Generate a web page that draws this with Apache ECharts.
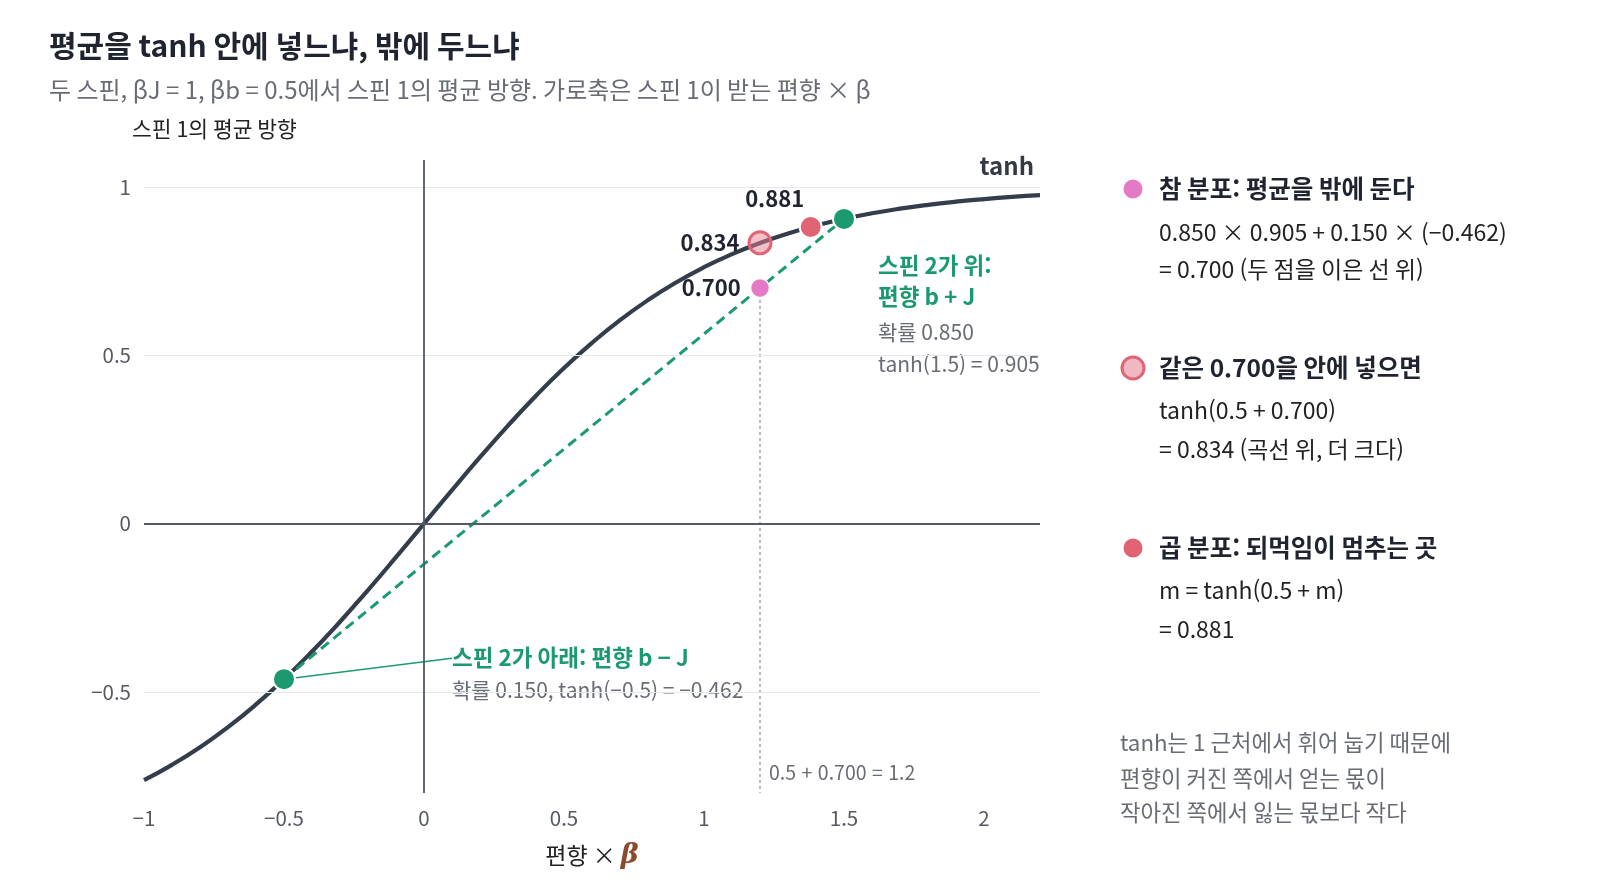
<!DOCTYPE html>
<html lang="ko">
<head>
<meta charset="UTF-8">
<title>평균을 tanh 안에 넣느냐, 밖에 두느냐</title>
<script src="https://cdn.jsdelivr.net/npm/echarts@6/dist/echarts.min.js"></script>
<style>
    html, body { margin: 0; padding: 0; background: #fff; }
    #chart { width: 1600px; height: 896px; }
</style>
</head>
<body>
<div id="chart"></div>
<script>
// tanh 곡선 표본 (가로: 편향 × β, 세로: 평균 방향)
var curveX = [-1.0, -0.9, -0.8, -0.7, -0.6, -0.5, -0.4, -0.3, -0.2, -0.1, 0.0,
              0.1, 0.2, 0.3, 0.4, 0.5, 0.6, 0.7, 0.8, 0.9, 1.0,
              1.1, 1.2, 1.3, 1.4, 1.5, 1.6, 1.7, 1.8, 1.9, 2.0, 2.1, 2.2];
var curveY = [-0.7616, -0.7163, -0.6640, -0.6044, -0.5370, -0.4621, -0.3799, -0.2913, -0.1974, -0.0997, 0.0,
              0.0997, 0.1974, 0.2913, 0.3799, 0.4621, 0.5370, 0.6044, 0.6640, 0.7163, 0.7616,
              0.8005, 0.8337, 0.8617, 0.8854, 0.9051, 0.9217, 0.9354, 0.9468, 0.9562, 0.9640, 0.9705, 0.9757];

var xTicks = [-1, -0.5, 0, 0.5, 1, 1.5, 2];
var yTicks = [-0.5, 0, 0.5, 1];
var xRange = [-1, 2.2];
var yRange = [-0.8, 1.08];

var lowerPoint = [-0.5, -0.462];   // 스핀 2가 아래
var upperPoint = [1.5, 0.905];     // 스핀 2가 위
var truePoint = [1.2, 0.700];      // 참 분포
var insidePoint = [1.2, 0.834];    // 평균을 안에 넣은 값
var productPoint = [1.381, 0.881]; // 곱 분포
var leaderEnd = [0.1, -0.4];       // 아래 설명으로 가는 선 끝

var FONT = "'Noto Sans CJK KR', 'Noto Sans', sans-serif";
var GREEN = '#1b9a6f';
var PINK = '#e47ac6';
var RED = '#e06474';
var CURVE = '#343d4b';
var GRAY = '#686c74';
var DARK = '#1f2430';
var AXIS = '#525a68';

function minus(v) {
    return String(v).replace('-', '\u2212');
}

var curveData = curveX.map(function (x, i) { return [x, curveY[i]]; });

var gridLines = yTicks.map(function (v) {
    return {
        yAxis: v,
        lineStyle: v === 0 ? { color: AXIS, width: 1.8, type: 'solid' }
                           : { color: '#e5e8ee', width: 1.2, type: 'solid' }
    };
});
gridLines.push({ xAxis: 0, lineStyle: { color: AXIS, width: 1.8, type: 'solid' } });

function txt(x, y, text, size, color, bold, align) {
    return {
        type: 'text', x: x, y: y, silent: true,
        style: {
            text: text, fill: color, font: (bold ? 'bold ' : '') + size + 'px ' + FONT,
            textAlign: align || 'left', textVerticalAlign: 'middle'
        }
    };
}
function dot(x, y, r, fill, stroke) {
    return {
        type: 'circle', shape: { cx: x, cy: y, r: r }, silent: true,
        style: { fill: fill, stroke: stroke || null, lineWidth: stroke ? 3 : 0 }
    };
}

var option = {
    animation: false,
    backgroundColor: '#fff',
    textStyle: { fontFamily: FONT },
    grid: { left: 144, right: 560, top: 160, bottom: 103 },
    xAxis: {
        type: 'value', min: xRange[0], max: xRange[1],
        axisLine: { show: false }, axisTick: { show: false }, splitLine: { show: false },
        axisLabel: {
            customValues: xTicks, margin: 15, fontSize: 20.5, color: '#555a62', fontFamily: FONT,
            formatter: minus
        },
        name: '{a|편향 × }{b|β}', nameLocation: 'middle', nameGap: 49,
        nameTextStyle: {
            rich: {
                a: { fontSize: 23, color: '#222', fontFamily: FONT },
                b: { fontSize: 27, color: '#8a4a2c', fontStyle: 'italic', fontWeight: 'bold', fontFamily: 'DejaVu Serif' }
            }
        }
    },
    yAxis: {
        type: 'value', min: yRange[0], max: yRange[1],
        axisLine: { show: false }, axisTick: { show: false }, splitLine: { show: false },
        axisLabel: {
            customValues: yTicks, margin: 13, fontSize: 20.5, color: '#555a62', fontFamily: FONT,
            formatter: minus
        }
    },
    series: [
        {
            // 눈금선, 영점선, 1.2 점선
            type: 'line', z: 1, silent: true, symbol: 'none',
            data: [[truePoint[0], truePoint[1]], [truePoint[0], yRange[0]]],
            lineStyle: { color: '#8a8f98', width: 1.2, type: [3, 3] },
            markLine: {
                silent: true, symbol: ['none', 'none'], label: { show: false },
                data: gridLines
            }
        },
        {
            type: 'line', z: 3, silent: true, smooth: true, symbol: 'none',
            data: curveData,
            lineStyle: { color: CURVE, width: 4.2 }
        },
        {
            type: 'line', z: 4, silent: true, symbol: 'none',
            data: [lowerPoint, upperPoint],
            lineStyle: { color: GREEN, width: 3, type: [10, 6] }
        },
        {
            type: 'line', z: 4, silent: true, symbol: 'none',
            data: [lowerPoint, leaderEnd],
            lineStyle: { color: GREEN, width: 1.5 }
        },
        {
            type: 'scatter', z: 6, silent: true,
            itemStyle: { opacity: 1 },
            label: { fontSize: 22, fontWeight: 'bold', color: DARK, fontFamily: FONT },
            data: [
                { value: lowerPoint, symbolSize: 22, itemStyle: { color: GREEN, opacity: 1, borderColor: '#fff', borderWidth: 2 } },
                { value: upperPoint, symbolSize: 22, itemStyle: { color: GREEN, opacity: 1, borderColor: '#fff', borderWidth: 2 } },
                {
                    value: truePoint, symbolSize: 19, itemStyle: { color: PINK, opacity: 1, borderColor: '#fff', borderWidth: 1.5 },
                    label: { show: true, position: 'left', distance: 9, formatter: '0.700' }
                },
                {
                    value: insidePoint, symbolSize: 22,
                    itemStyle: { color: 'rgba(232,128,146,0.5)', borderColor: RED, borderWidth: 3, opacity: 1 },
                    label: { show: true, position: 'left', distance: 8, formatter: '0.834' }
                },
                {
                    value: productPoint, symbolSize: 22, itemStyle: { color: RED, opacity: 1, borderColor: '#fff', borderWidth: 2 },
                    label: { show: true, position: 'top', distance: 4, offset: [-36, -1], formatter: '0.881' }
                }
            ]
        }
    ],
    graphic: [
        txt(49, 46, '평균을 tanh 안에 넣느냐, 밖에 두느냐', 30, DARK, true),
        txt(49, 90, '두 스핀, βJ = 1, βb = 0.5에서 스핀 1의 평균 방향. 가로축은 스핀 1이 받는 편향 × β', 24, GRAY, false),
        txt(132, 129, '스핀 1의 평균 방향', 21.5, '#222', false),
        txt(1034, 166, 'tanh', 24, '#333a45', true, 'right'),

        txt(878, 265, '스핀 2가 위:', 22.5, GREEN, true),
        txt(878, 296, '편향 b + J', 22.5, GREEN, true),
        txt(878, 332, '확률 0.850', 21, GRAY, false),
        txt(878, 364, 'tanh(1.5) = 0.905', 21, GRAY, false),

        txt(452, 657, '스핀 2가 아래: 편향 b \u2212 J', 22.5, GREEN, true),
        txt(452, 690, '확률 0.150, tanh(\u22120.5) = \u22120.462', 21, GRAY, false),

        txt(769, 773, '0.5 + 0.700 = 1.2', 19.5, GRAY, false),

        dot(1133, 189, 9.5, PINK),
        txt(1159, 189, '참 분포: 평균을 밖에 둔다', 24.5, DARK, true),
        txt(1159, 232, '0.850 × 0.905 + 0.150 × (\u22120.462)', 23, '#222', false),
        txt(1159, 269, '= 0.700 (두 점을 이은 선 위)', 23, '#222', false),

        dot(1133, 368, 11, '#f0b9c2', RED),
        txt(1159, 368, '같은 0.700을 안에 넣으면', 24.5, DARK, true),
        txt(1159, 410, 'tanh(0.5 + 0.700)', 23, '#222', false),
        txt(1159, 449, '= 0.834 (곡선 위, 더 크다)', 23, '#222', false),

        dot(1133, 548, 9.5, RED),
        txt(1159, 548, '곱 분포: 되먹임이 멈추는 곳', 24.5, DARK, true),
        txt(1159, 590, 'm = tanh(0.5 + m)', 23, '#222', false),
        txt(1159, 629, '= 0.881', 23, '#222', false),

        txt(1120, 743, 'tanh는 1 근처에서 휘어 눕기 때문에', 22.3, GRAY, false),
        txt(1120, 779, '편향이 커진 쪽에서 얻는 몫이', 22.3, GRAY, false),
        txt(1120, 813, '작아진 쪽에서 잃는 몫보다 작다', 22.3, GRAY, false)
    ]
};

var myChart = echarts.init(document.getElementById('chart'));
myChart.setOption(option);
window.onresize = function () {
    myChart.resize();
};
</script>
</body>
</html>
